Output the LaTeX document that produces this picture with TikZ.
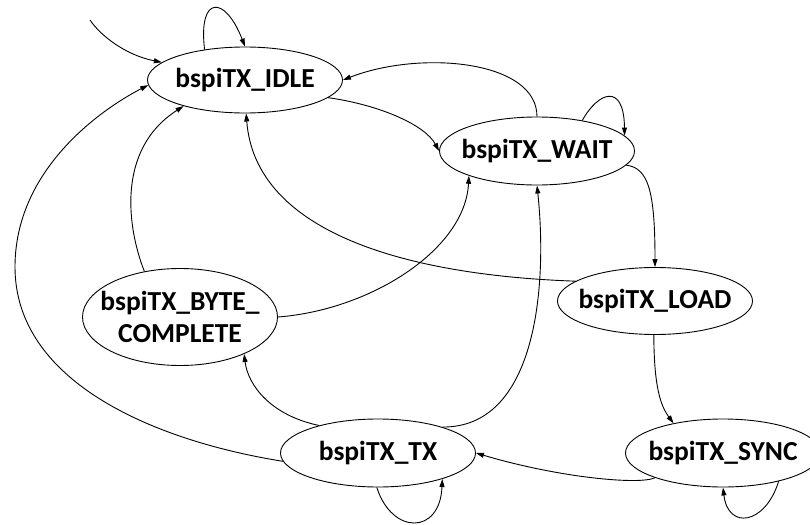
\documentclass[tikz,border=0pt]{standalone}
\usepackage{fontspec}
\setmainfont{Carlito}
\usetikzlibrary{shapes.geometric,arrows.meta}

\tikzset{
  state/.style={ellipse, draw, line width=0.9pt, minimum width=195pt,
    minimum height=68pt, inner xsep=-20pt, inner ysep=0pt, align=center,
    font=\fontsize{27.5}{32}\selectfont\bfseries},
  edge/.style={line width=0.9pt, -{Triangle[length=8pt,width=5pt]}}
}

\begin{document}
\begin{tikzpicture}[x=1pt, y=-1pt]
  \useasboundingbox (0,0) rectangle (810,524);

  % states
  \node[state, minimum height=66pt] (idle) at (245,80)  {bspiTX\_IDLE};
  \node[state] (wait) at (537,151) {bspiTX\_WAIT};
  \node[state, minimum height=67pt] (load) at (655,301) {bspiTX\_LOAD};
  \node[state, minimum height=97pt] (byte) at (180,317) {bspiTX\_BYTE\_\\COMPLETE};
  \node[state] (tx)   at (378,453) {bspiTX\_TX};
  \node[state] (sync) at (723,453) {bspiTX\_SYNC};

  % entry point
  \coordinate (start) at (90,20);
  \draw[edge] (start) .. controls (100,35) and (125,55) .. (idle.168);

  % self loops
  \draw[edge] (idle.143) .. controls (198,-5) and (225,-5) .. (idle.north);
  \draw[edge] (wait.34) .. controls (598,92) and (624,82) .. (wait.10);
  \draw[edge] (tx.-92) .. controls (392,535) and (440,535) .. (tx.-22);
  \draw[edge] (sync.-27) .. controls (765,525) and (728,530) .. (sync.south);

  % transitions
  \draw[edge] (wait.north) .. controls (537,60) and (420,50) .. (idle.east);
  \draw[edge] (idle.-12) .. controls (380,105) and (425,125) .. (wait.west);
  \draw[edge] (wait.-9) .. controls (648,168) and (655,190) .. (load.north);
  \draw[edge] (load.166) .. controls (400,275) and (255,230) .. (idle.-88);
  \draw[edge] (byte.east) .. controls (370,310) and (465,250) .. (wait.200);
  \draw[edge] (byte.128) .. controls (128,230) and (115,150) .. (idle.203);
  \draw[edge] (tx.185) .. controls (150,440) and (15,380) .. (15,267)
                       .. controls (15,170) and (100,110) .. (idle.183);
  \draw[edge] (tx.155) .. controls (270,415) and (248,385) .. (byte.-30);
  \draw[edge] (tx.22) .. controls (535,428) and (548,290) .. (wait.south);
  \draw[edge] (load.-92) .. controls (654,385) and (660,405) .. (sync.149);
  \draw[edge] (sync.200) .. controls (640,485) and (560,478) .. (tx.east);
\end{tikzpicture}
\end{document}
